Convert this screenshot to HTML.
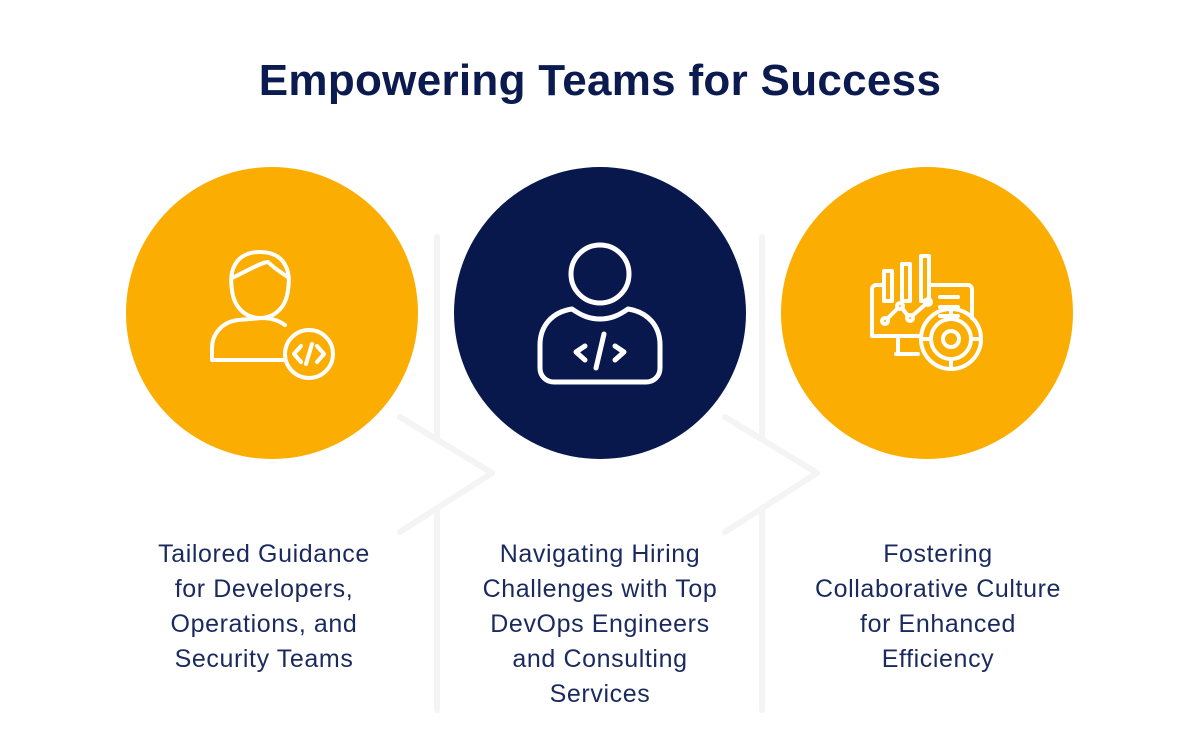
<!DOCTYPE html>
<html><head><meta charset="utf-8">
<style>
html,body{margin:0;padding:0;background:#fff;}
body{width:1200px;height:749px;position:relative;overflow:hidden;font-family:"Liberation Sans",sans-serif;}
.title{position:absolute;left:0;width:1200px;top:56px;text-align:center;font-size:44px;font-weight:bold;color:#0b1a4f;letter-spacing:0.3px;}
.cap{position:absolute;width:340px;text-align:center;font-size:25px;letter-spacing:0.6px;line-height:35px;color:#1b2a5e;top:537px;}
svg{position:absolute;left:0;top:0;}
</style></head><body>
<svg width="1200" height="749">
  <g stroke="#f4f4f5" stroke-width="6" fill="none" stroke-linecap="round" stroke-linejoin="round">
    <polyline points="437,237 437,437"/>
    <polyline points="400,417 492,473 400,532"/>
    <polyline points="437,510 437,710"/>
    <polyline points="762,237 762,437"/>
    <polyline points="725,417 817,473 725,532"/>
    <polyline points="762,510 762,710"/>
  </g>
  <circle cx="272" cy="313" r="146" fill="#fbad02"/>
  <circle cx="600" cy="313" r="146" fill="#08184d"/>
  <circle cx="927" cy="313" r="146" fill="#fbad02"/>

  <g fill="none" stroke="#fff" stroke-width="4" stroke-linecap="round" stroke-linejoin="round">
    <path d="M232,290 C228,265 240,252 260,252 C280,252 292,265 288,290 C286,308 274,318 260,318 C246,318 234,308 232,290 Z"/>
    <path d="M232,278 C245,272 262,262 268,262 C276,270 284,274 289,278"/>
    <path d="M285,325 C278,320 270,318 262,318 L238,320 C222,322 212,334 212,348 L212,360 L285,360"/>
    <circle cx="309" cy="354" r="24"/>
    <path d="M301,346 L294,354 L301,362 M317,346 L324,354 L317,362 M312,344 L306,364"/>
  </g>
  <g fill="none" stroke="#fff" stroke-width="5" stroke-linecap="round" stroke-linejoin="round">
    <circle cx="600" cy="274" r="29"/>
    <path d="M572,309 C582,316 590,319 600,319 C610,319 618,316 628,309 C648,312 660,326 660,345 L660,368 C660,376 654,382 646,382 L554,382 C546,382 540,376 540,368 L540,345 C540,326 552,312 572,309 Z"/>
    <path d="M585,346 L576,352 L585,360 M615,346 L624,352 L615,360 M604,334 L596,368"/>
  </g>
  <g fill="none" stroke="#fff" stroke-width="4" stroke-linecap="round" stroke-linejoin="round">
    <path d="M884,285 L876,285 C874,285 872,287 872,289 L872,336 L920,336"/>
    <path d="M932,285 L968,285 C970,285 972,287 972,289 L972,318"/>
    <rect x="884" y="271" width="8" height="30"/>
    <rect x="902" y="264" width="8" height="37"/>
    <rect x="921" y="256" width="8" height="45"/>
    <path d="M940,297 L958,297 M940,307 L958,307 M940,316 L958,316"/>
    <circle cx="885" cy="321" r="3"/><circle cx="900" cy="306" r="3"/><circle cx="910" cy="318" r="3"/><circle cx="928" cy="302" r="3"/>
    <path d="M887,319 L898,308 M902,308 L908,316 M912,316 L926,304"/>
    <path d="M898,336 L898,354 M910,354 L896,354 M910,354 L918,354"/>
    <circle cx="951" cy="339" r="30"/>
    <circle cx="951" cy="339" r="20"/>
    <circle cx="951" cy="339" r="8"/>
    <path d="M951,309 L951,319 M951,359 L951,369 M921,339 L931,339 M971,339 L981,339"/>
  </g>
</svg>
<div class="title">Empowering Teams for Success</div>
<div class="cap" style="left:94px">Tailored Guidance<br>for Developers,<br>Operations, and<br>Security Teams</div>
<div class="cap" style="left:430px">Navigating Hiring<br>Challenges with Top<br>DevOps Engineers<br>and Consulting<br>Services</div>
<div class="cap" style="left:768px">Fostering<br>Collaborative Culture<br>for Enhanced<br>Efficiency</div>
</body></html>
